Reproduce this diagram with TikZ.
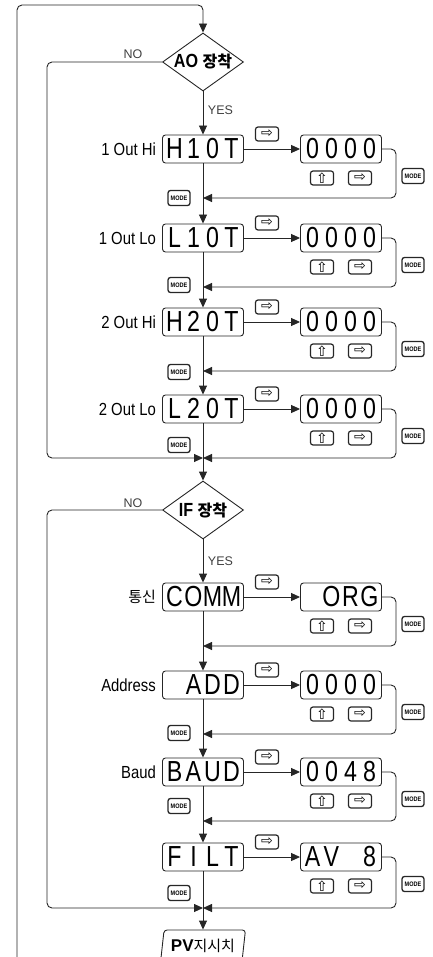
\documentclass[tikz,border=0pt]{standalone}
\usepackage{fontspec}
\setmainfont{Liberation Sans}
\newfontfamily\krfont{Noto Sans CJK KR}
\newfontfamily\symfont{DejaVu Sans}
\newfontfamily\lcdfont[FakeStretch=0.8]{Liberation Sans}
\newfontfamily\lblfont[FakeStretch=0.85]{Liberation Sans}
\usetikzlibrary{arrows.meta,shapes.geometric,positioning}

% one display cell per character
\def\lcd#1#2#3#4{\makebox[19pt]{#1}\makebox[19pt]{#2}\makebox[19pt]{#3}\makebox[19pt]{#4}}

\tikzset{
  line/.style={draw=black!85, line width=0.9pt},
  arr/.style={line, -{Triangle[length=9pt,width=8pt]}},
  disp/.style={draw=black!85, line width=0.9pt, rounded corners=3pt,
    minimum width=81pt, minimum height=28pt, inner sep=0pt,
    font=\lcdfont\fontsize{29}{29}\selectfont},
  keybox/.style={draw=black!85, line width=1.2pt, rounded corners=2.5pt,
    minimum width=23pt, minimum height=14pt, inner sep=0pt,
    font=\symfont\fontsize{14}{14}\selectfont},
  modekey/.style={draw=black!85, line width=1.3pt, rounded corners=2.5pt,
    minimum width=22pt, minimum height=15pt, inner sep=0pt,
    font=\lblfont\bfseries\fontsize{6.5}{6.5}\selectfont},
  decide/.style={diamond, draw=black!85, line width=0.9pt, aspect=1.4,
    minimum width=81pt, minimum height=58pt, inner sep=0pt,
    font=\lblfont\bfseries\fontsize{19}{19}\selectfont},
  lbl/.style={font=\lblfont\fontsize{17.5}{17.5}\selectfont, inner sep=0pt},
  yn/.style={font=\fontsize{12.5}{12.5}\selectfont, text=black!75, inner sep=0pt},
}

\begin{document}
\begin{tikzpicture}[x=1pt,y=-1pt]
  \useasboundingbox (0,0) rectangle (432,957);

  \node[decide] (ao) at (203,62) {AO {\krfont\fontsize{16}{16}\selectfont 장착}};
  \node[decide] (if) at (203,510) {IF {\krfont\fontsize{16}{16}\selectfont 장착}};
  \node[trapezium, trapezium left angle=78, trapezium right angle=102,
    trapezium stretches=true, line, rounded corners=3pt, inner sep=0pt,
    minimum width=85pt, minimum height=32pt] (pv) at (203,946)
    {{\bfseries\fontsize{17}{17}\selectfont PV}{\krfont\fontsize{15}{15}\selectfont 지시치}};

  \foreach \i/\y/\d/\v/\r in {1/149/H10T/0000/198, 2/238/L10T/0000/287,
      3/322/H20T/0000/371, 4/409/L20T/0000/458, 5/597/COMM/~ORG/646,
      6/685/~ADD/0000/734, 7/772/BAUD/0048/821, 8/857/FILT/AV~8/908}{
    \node[disp] (d\i) at (203,\y) {\expandafter\lcd\d};
    \node[disp] (v\i) at (341,\y) {\expandafter\lcd\v};
    \node[keybox] (k\i) at (267,\y-15) {⇨};
    \node[keybox] (u\i) at (322,\y+29) {⇧};
    \node[keybox] (s\i) at (360,\y+29) {⇨};
    \node[modekey] (m\i) at (413,\y+27) {MODE};
    \coordinate (r\i) at (203,\r);
    \draw[arr] (d\i) -- (v\i);
    \draw[arr, rounded corners=5pt] (v\i.east) -- (396,\y) |- (r\i);
  }

  \foreach \i/\t in {1/1 Out Hi, 2/1 Out Lo, 3/2 Out Hi, 4/2 Out Lo,
      5/{\krfont\fontsize{15}{15}\selectfont 통신}, 6/Address, 7/Baud}
    \node[lbl, left=6pt of d\i] (l\i) {\t};

  \foreach \i/\y in {1/198, 2/285, 3/372, 4/445, 6/733, 7/806, 8/893}
    \node[modekey] (n\i) at (179,\y) {MODE};

  \node[yn] (no1) at (133,54.5) {NO};
  \node[yn] (yes1) at (220.5,110) {YES};
  \node[yn] (no2) at (133,503.5) {NO};
  \node[yn] (yes2) at (220.5,561) {YES};

  % main flow
  \foreach \a/\b in {ao/d1, d1/d2, d2/d3, d3/d4, d4/if, if/d5, d5/d6,
      d6/d7, d7/d8, d8/pv}
    \draw[arr] (\a) -- (\b);

  \coordinate (start) at (17,962);
  \draw[arr, rounded corners=5pt] (start) -- (17,5) -| (ao.north);
  \draw[arr, rounded corners=5pt] (ao.west) -- (47,62) |- (r4);
  \draw[arr, rounded corners=5pt] (if.west) -- (47,510) |- (r8);
\end{tikzpicture}
\end{document}
